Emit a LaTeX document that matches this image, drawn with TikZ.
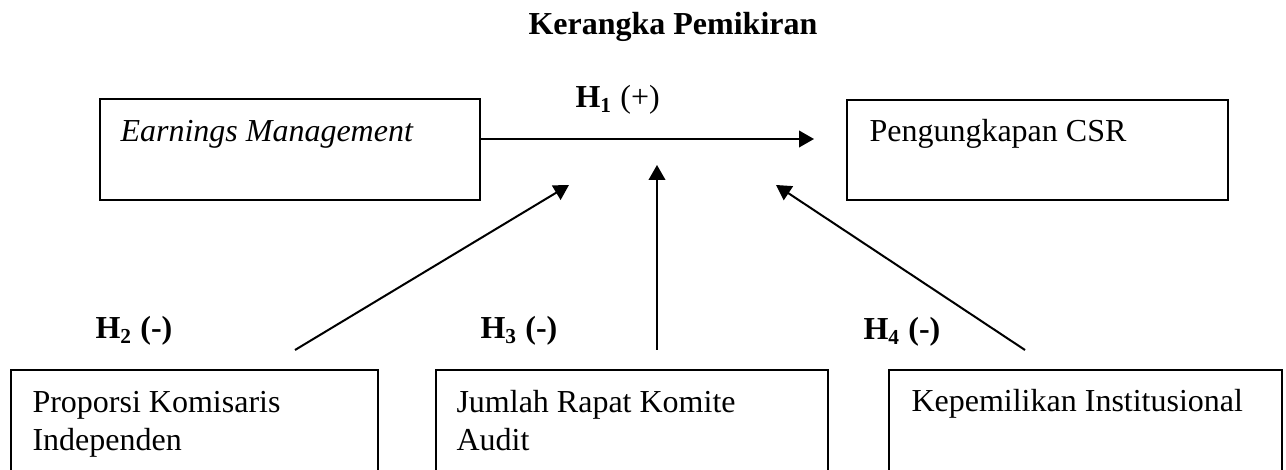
\documentclass[tikz,border=0pt]{standalone}
\usepackage{fontspec}
\setmainfont{Liberation Serif}
\usetikzlibrary{arrows.meta}

\begin{document}
\begin{tikzpicture}[x=0.375pt, y=-0.375pt, font=\fontsize{12pt}{14pt}\selectfont,
    varbox/.style={draw, line width=0.5pt, anchor=north west, inner sep=0pt, outer sep=0pt},
    vartext/.style={anchor=base west, inner sep=0pt, align=left},
    hyp/.style={anchor=base west, inner sep=0pt, font=\fontsize{12pt}{14pt}\selectfont\bfseries},
    link/.style={-{Triangle[length=5.6pt,width=6.2pt]}, line width=0.75pt}]
  \clip (0,0) rectangle (1286,470);
  % title
  \node[anchor=base west, inner sep=0pt, font=\fontsize{12pt}{14pt}\selectfont\bfseries] (title) at (528,35) {Kerangka Pemikiran};
  % top row
  \node[varbox, minimum width=142.5pt, minimum height=37.9pt] (em) at (100,99) {};
  \node[vartext] (emtxt) at (120,142) {\textit{Earnings Management}};
  \node[varbox, minimum width=142.9pt, minimum height=37.5pt] (csr) at (847,100) {};
  \node[vartext] (csrtxt) at (869,142) {Pengungkapan CSR};
  % bottom row (second line of text sits on the anchor)
  \node[varbox, minimum width=137.6pt, minimum height=60pt] (kom) at (11,370) {};
  \node[vartext] (komtxt) at (32,451) {Proporsi Komisaris\\[0.6pt]Independen};
  \node[varbox, minimum width=147pt, minimum height=60pt] (rapat) at (436,370) {};
  \node[vartext] (rapattxt) at (456,451) {Jumlah Rapat Komite\\[0.6pt]Audit};
  \node[varbox, minimum width=147.4pt, minimum height=60pt] (inst) at (889,370) {};
  \node[vartext] (insttxt) at (911,412) {Kepemilikan Institusional};
  % hypotheses
  \node[hyp] (h1) at (575,108) {H\textsubscript{1} \normalfont(+)};
  \node[hyp] (h2) at (95,339) {H\textsubscript{2} (-)};
  \node[hyp] (h3) at (480,339) {H\textsubscript{3} (-)};
  \node[hyp] (h4) at (863,340) {H\textsubscript{4} (-)};
  % arrows
  \coordinate (h1end) at (814,139);
  \coordinate (h2start) at (295,350);
  \coordinate (h2end) at (569,185);
  \coordinate (h3start) at (657,350);
  \coordinate (h3end) at (657,165);
  \coordinate (h4start) at (1025,350);
  \coordinate (h4end) at (776,185);
  \draw[link] (em.east |- h1end) -- (h1end);
  \draw[link] (h2start) -- (h2end);
  \draw[link] (h3start) -- (h3end);
  \draw[link] (h4start) -- (h4end);
\end{tikzpicture}
\end{document}
